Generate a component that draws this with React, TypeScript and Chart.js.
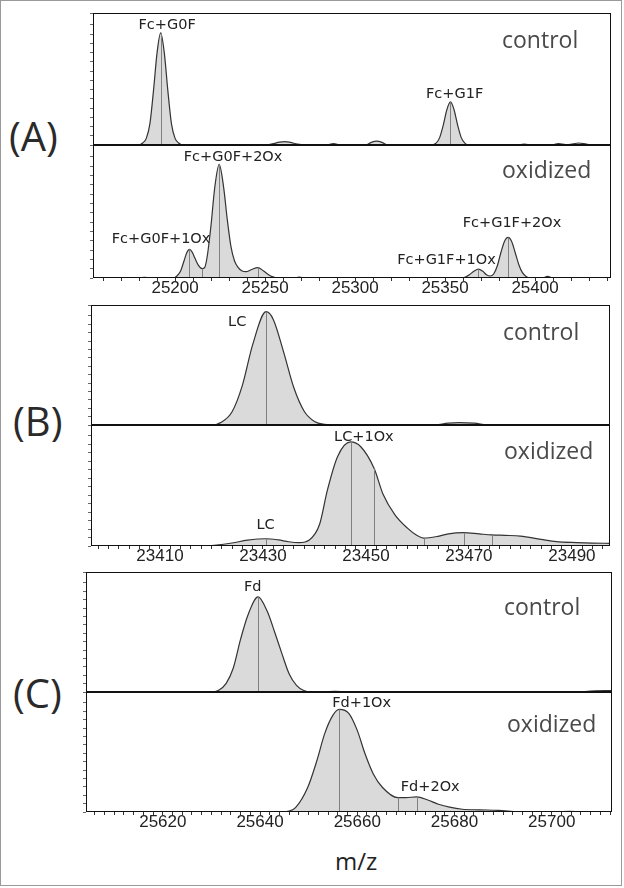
import React, { useEffect, useRef } from "react";
import { Chart, registerables } from "chart.js";

Chart.register(...registerables);

type Pt = [number, number];
type Lbl = [string, number, number];

// ---------------- Panel A : Fc ----------------
const aRange = [25154.4, 25442.2];
const aMajorTicks = [25200, 25250, 25300, 25350, 25400];
const aMinorStep = 10;

const aControl: Pt[] = [
  [25154.4, 0], [25180, 0], [25182, 1.5], [25184, 5], [25186, 16], [25188, 41], [25190, 70],
  [25192, 85], [25194, 70], [25196, 41], [25198, 16], [25200, 5], [25202, 1.5], [25204, 0],
  [25250, 0], [25254, 0.8], [25258, 2.2], [25261, 2.6], [25264, 2], [25268, 0.6], [25272, 0],
  [25284, 0], [25288, 1], [25292, 0], [25306, 0], [25309, 2], [25312, 3], [25315, 2], [25318, 0],
  [25342, 0], [25345, 1.4], [25347, 5.6], [25349, 15], [25351, 26.7], [25353, 32.6], [25355, 26.7],
  [25357, 15], [25359, 5.6], [25361, 1.4], [25363, 0], [25390, 0], [25394, 0.7], [25398, 0],
  [25409, 0], [25413, 1], [25417, 0.3], [25421, 0.8], [25424, 1.5], [25428, 0.8], [25431, 0],
  [25442.2, 0],
];
const aControlMarks = [25192, 25353];
const aControlLabels: Lbl[] = [
  ["Fc+G0F", 25195.6, 90.9],
  ["Fc+G1F", 25355.3, 38.6],
];

const aOxidized: Pt[] = [
  [25154.4, 0], [25180, 0], [25183, 0.5], [25186, 0], [25199, 0], [25201, 1.5], [25203, 5],
  [25205, 13], [25206.5, 19], [25208, 21.5], [25209.5, 19.5], [25211, 15], [25213, 9.5],
  [25215, 7], [25216.5, 8], [25218, 17.5], [25220, 40], [25222, 67.5], [25224.5, 85.4],
  [25227, 68], [25229, 44], [25231, 24], [25233, 13], [25235, 8], [25237, 5.5], [25239.5, 4.8],
  [25242, 6], [25246, 7.8], [25249, 5.5], [25252, 2.5], [25254, 1], [25257, 0], [25266, 0],
  [25269, 0.6], [25272, 0], [25358, 0], [25361, 0.5], [25363.5, 2.5], [25366, 5], [25368.5, 6.6],
  [25371, 5], [25373, 2.5], [25375, 1.5], [25377, 3], [25379, 9], [25381, 19], [25383, 27.5],
  [25385, 30.5], [25387, 27.5], [25389, 19], [25391, 10], [25393, 4], [25395, 1.2], [25397, 0],
  [25404, 0], [25407, 1.2], [25410, 0], [25442.2, 0],
];
const aOxidizedMarks = [25208, 25215, 25224.5, 25246, 25368.5, 25385];
const aOxidizedLabels: Lbl[] = [
  ["Fc+G0F+2Ox", 25232.2, 91.1],
  ["Fc+G0F+1Ox", 25192.2, 29.5],
  ["Fc+G1F+1Ox", 25350.8, 13.6],
  ["Fc+G1F+2Ox", 25387.2, 41.1],
];

// ---------------- Panel B : LC ----------------
const bRange = [23396.6, 23497.4];
const bMajorTicks = [23410, 23430, 23450, 23470, 23490];
const bMinorStep = 2;

const bControl: Pt[] = [
  [23396.6, 0], [23420, 0], [23422, 2.5], [23424, 11], [23426, 33], [23428, 67], [23430.6, 94.4],
  [23432, 88], [23434, 61], [23436, 31], [23438, 11.5], [23440, 3], [23442, 0.5], [23444, 0],
  [23463, 0], [23466, 1.5], [23468, 2], [23471, 1.5], [23474, 0], [23497.4, 0],
];
const bControlMarks = [23430.6];
const bControlLabels: Lbl[] = [["LC", 23425, 85.7]];

const bOxidized: Pt[] = [
  [23396.6, 0], [23418, 0], [23421, 0.8], [23424, 2.5], [23427, 4.8], [23430.6, 6], [23433, 5],
  [23435, 3.5], [23437, 2.8], [23439, 5], [23441, 18], [23442.5, 46], [23444.5, 74], [23447, 86],
  [23449, 82], [23451.6, 64], [23453.3, 43], [23455.6, 26], [23458, 15], [23460, 8.5],
  [23461.2, 6.5], [23464, 8], [23466, 10], [23469, 11], [23472, 10], [23474.4, 9.2], [23477, 8.8],
  [23480, 8.2], [23484, 5.5], [23487, 3.6], [23491, 2.8], [23494, 2.4], [23497.4, 2.2],
];
const bOxidizedMarks = [23430.6, 23447, 23451.6, 23461.2, 23469, 23474.4];
const bOxidizedLabels: Lbl[] = [
  ["LC+1Ox", 23449.6, 90.3],
  ["LC", 23430.5, 17.5],
];

// ---------------- Panel C : Fd ----------------
const cRange = [25604.2, 25712.4];
const cMajorTicks = [25620, 25640, 25660, 25680, 25700];
const cMinorStep = 2;

const cControl: Pt[] = [
  [25604.2, 0], [25630, 0], [25631.5, 1.5], [25633, 7], [25634.5, 20], [25636, 44], [25637.5, 64],
  [25639.6, 79.2], [25641.5, 67], [25643, 50], [25644.5, 32], [25646, 15], [25647.5, 5.5],
  [25649, 1.2], [25650.5, 0], [25653, 0], [25655.4, 0.6], [25658, 0], [25705, 0], [25708, 0.8],
  [25711, 1.2], [25712.4, 1.2],
];
const cControlMarks = [25639.6];
const cControlLabels: Lbl[] = [["Fd", 25638.5, 87.4]];

const cOxidized: Pt[] = [
  [25604.2, 0], [25644, 0], [25646, 0.8], [25647.3, 3.6], [25649.8, 20.4], [25651.7, 42.9],
  [25653.3, 65.3], [25655, 80.7], [25656.3, 85.5], [25658.3, 82], [25660, 68], [25661.6, 48.5],
  [25663.3, 31.7], [25665.2, 20.4], [25668.3, 12], [25670, 12], [25672.2, 12.6], [25674.5, 10],
  [25676.7, 6.5], [25679, 4], [25681.6, 2.3], [25685, 1.8], [25689, 1.4], [25693, 0.3], [25696, 0],
  [25701, 0], [25703.7, 0.6], [25706, 0], [25712.4, 0],
];
const cOxidizedMarks = [25656.3, 25668.3, 25672.2];
const cOxidizedLabels: Lbl[] = [
  ["Fd+1Ox", 25660.9, 91],
  ["Fd+2Ox", 25675, 21],
];

// ---------------- drawing ----------------
const YW = 5; // width kept for the y-axis tick marks
const PR = 2; // right padding
const XH = 30; // height of the x axis (ticks + labels)

interface SubProps {
  left: number;
  top: number;
  width: number;
  height: number;
  range: number[];
  pts: Pt[];
  marks: number[];
  labels: Lbl[];
  axis: boolean;
  majors?: number[];
  minorStep?: number;
}

function SubPlot(p: SubProps) {
  const ref = useRef<HTMLCanvasElement>(null);
  const cw = p.width + YW + PR;
  const ch = p.height + (p.axis ? XH : 0);

  useEffect(() => {
    const canvas = ref.current;
    if (!canvas) return;
    const tickValues: number[] = [];
    if (p.axis && p.minorStep) {
      const s = p.minorStep;
      for (let v = Math.ceil(p.range[0] / s) * s; v <= p.range[1]; v += s) tickValues.push(v);
    }
    const majors = p.majors || [];

    const overlay = {
      id: "overlay",
      afterDatasetsDraw(chart: any) {
        const { ctx, scales } = chart;
        const meta = chart.getDatasetMeta(0);
        const base = scales.y.getPixelForValue(0);
        ctx.save();
        ctx.strokeStyle = "#808080";
        ctx.lineWidth = 1;
        p.marks.forEach((m) => {
          const i = p.pts.findIndex((q) => q[0] === m);
          if (i < 0) return;
          const el = meta.data[i];
          const x = Math.round(el.x) + 0.5;
          ctx.beginPath();
          ctx.moveTo(x, el.y);
          ctx.lineTo(x, base);
          ctx.stroke();
        });
        ctx.restore();
      },
      afterDraw(chart: any) {
        const { ctx, chartArea: a, scales } = chart;
        ctx.save();
        ctx.strokeStyle = "#111";
        ctx.lineWidth = 1;
        ctx.strokeRect(
          Math.round(a.left) + 0.5,
          Math.round(a.top) + 0.5,
          Math.round(a.right - a.left) - 1,
          Math.round(a.bottom - a.top) - 1
        );
        ctx.font = '14.5px "DejaVu Sans", sans-serif';
        ctx.fillStyle = "#222";
        ctx.textAlign = "center";
        ctx.textBaseline = "middle";
        p.labels.forEach(([t, x, y]) => {
          ctx.fillText(t, scales.x.getPixelForValue(x), scales.y.getPixelForValue(y));
        });
        ctx.restore();
      },
    };

    const xScale: any = {
      type: "linear",
      min: p.range[0],
      max: p.range[1],
      display: p.axis,
    };
    if (p.axis) {
      Object.assign(xScale, {
        afterBuildTicks: (s: any) => {
          s.ticks = tickValues.map((v) => ({ value: v }));
        },
        afterFit: (s: any) => {
          s.height = XH;
        },
        ticks: {
          autoSkip: false,
          maxRotation: 0,
          padding: -1,
          color: "#222",
          font: { family: '"Liberation Sans Narrow", "Liberation Sans", Arial, sans-serif', size: 17, lineHeight: 1 },
          callback: (v: any) => (majors.includes(Number(v)) ? String(v) : ""),
        },
        grid: { drawOnChartArea: false, tickLength: 3, color: "#333" },
        border: { display: false },
      });
    }

    const chart = new Chart(canvas, {
      type: "line",
      data: {
        datasets: [
          {
            data: p.pts.map(([x, y]) => ({ x, y })),
            borderColor: "#333",
            borderWidth: 1.2,
            backgroundColor: "#dadada",
            fill: "origin",
            pointRadius: 0,
            pointHoverRadius: 0,
            cubicInterpolationMode: "monotone",
          } as any,
        ],
      },
      options: {
        responsive: false,
        animation: false,
        devicePixelRatio: 1,
        events: [],
        layout: { padding: { left: 0, right: PR, top: 0, bottom: 0 }, autoPadding: false } as any,
        plugins: { legend: { display: false }, tooltip: { enabled: false } },
        scales: {
          x: xScale,
          y: {
            type: "linear",
            min: 0,
            max: 100,
            display: true,
            afterFit: (s: any) => {
              s.width = YW;
            },
            ticks: { display: false, stepSize: 7 },
            grid: { drawOnChartArea: false, tickLength: 3, color: "#666" },
            border: { display: false },
          } as any,
        },
      },
      plugins: [overlay],
    });
    return () => chart.destroy();
  }, []);

  return (
    <canvas
      ref={ref}
      width={cw}
      height={ch}
      style={{ position: "absolute", left: p.left - YW, top: p.top, width: cw, height: ch }}
    />
  );
}

const letterStyle = (left: number, top: number): React.CSSProperties => ({
  position: "absolute",
  left,
  top,
  fontFamily: '"Open Sans", sans-serif',
  fontSize: 40,
  lineHeight: "40px",
  color: "#2a2a2a",
  whiteSpace: "nowrap",
});

const condStyle = (left: number, top: number): React.CSSProperties => ({
  position: "absolute",
  left,
  top,
  fontFamily: '"Open Sans", sans-serif',
  fontSize: 23,
  lineHeight: "23px",
  color: "#4a4a4a",
  whiteSpace: "nowrap",
});

export default function App() {
  return (
    <div style={{ position: "absolute", left: 0, top: 0, width: 624, height: 888, background: "#fff", overflow: "hidden" }}>
      <div style={{ position: "absolute", left: 0, top: 0, width: 620, height: 884, border: "1px solid #9a9a9a" }} />

      {/* Panel A */}
      <SubPlot left={93} top={13} width={518} height={132} range={aRange} pts={aControl} marks={aControlMarks} labels={aControlLabels} axis={false} />
      <SubPlot left={93} top={145} width={518} height={133} range={aRange} pts={aOxidized} marks={aOxidizedMarks} labels={aOxidizedLabels} axis={true} majors={aMajorTicks} minorStep={aMinorStep} />

      {/* Panel B */}
      <SubPlot left={91} top={305} width={519} height={120} range={bRange} pts={bControl} marks={bControlMarks} labels={bControlLabels} axis={false} />
      <SubPlot left={91} top={425} width={519} height={121} range={bRange} pts={bOxidized} marks={bOxidizedMarks} labels={bOxidizedLabels} axis={true} majors={bMajorTicks} minorStep={bMinorStep} />

      {/* Panel C */}
      <SubPlot left={86} top={572} width={526} height={120} range={cRange} pts={cControl} marks={cControlMarks} labels={cControlLabels} axis={false} />
      <SubPlot left={86} top={692} width={526} height={120} range={cRange} pts={cOxidized} marks={cOxidizedMarks} labels={cOxidizedLabels} axis={true} majors={cMajorTicks} minorStep={cMinorStep} />

      <div style={letterStyle(9, 115.5)}>(A)</div>
      <div style={letterStyle(13, 401)}>(B)</div>
      <div style={letterStyle(13, 673)}>(C)</div>

      <div style={condStyle(502, 27.9)}>control</div>
      <div style={condStyle(502, 157.9)}>oxidized</div>
      <div style={condStyle(503, 320.3)}>control</div>
      <div style={condStyle(504, 438.6)}>oxidized</div>
      <div style={condStyle(504, 594.6)}>control</div>
      <div style={condStyle(507, 712.3)}>oxidized</div>

      <div
        style={{
          position: "absolute",
          left: 335,
          top: 848.7,
          fontFamily: '"Open Sans", sans-serif',
          fontSize: 24,
          lineHeight: "24px",
          color: "#222",
          whiteSpace: "nowrap",
        }}
      >
        m/z
      </div>
    </div>
  );
}
